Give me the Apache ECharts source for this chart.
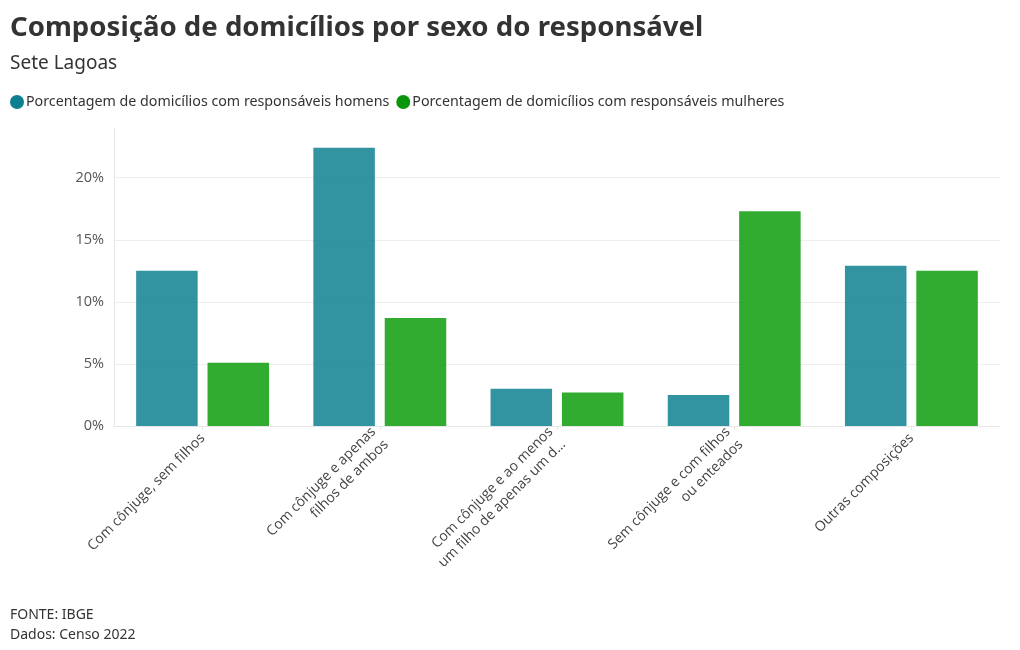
<!DOCTYPE html>
<html>
<head>
<meta charset="utf-8">
<script src="https://cdn.jsdelivr.net/npm/echarts@6/dist/echarts.min.js"></script>
<style>html,body{margin:0;padding:0;background:#fff}#c{width:1020px;height:650px}</style>
</head>
<body>
<div id="c"></div>
<script>
const categories = [
  "Com cônjuge, sem filhos",
  "Com cônjuge e apenas\nfilhos de ambos",
  "Com cônjuge e ao menos\num filho de apenas um d...",
  "Sem cônjuge e com filhos\nou enteados",
  "Outras composições"
];
const seriesNames = [
  "Porcentagem de domicílios com responsáveis homens",
  "Porcentagem de domicílios com responsáveis mulheres"
];
const homens = [12.5, 22.4, 3.0, 2.5, 12.9];
const mulheres = [5.1, 8.7, 2.7, 17.3, 12.5];
const yTicks = [0, 5, 10, 15, 20];

const chart = echarts.init(document.getElementById('c'), null, {renderer: 'canvas'});
const titleFont = '"Noto Sans", Roboto, sans-serif';
const bodyFont = '"Open Sans", "Noto Sans", sans-serif';
chart.setOption({
  animation: false,
  title: [
    {text: "Composição de domicílios por sexo do responsável", left: 5, top: 9,
     textStyle: {fontFamily: titleFont, fontSize: 27.6, fontWeight: 'bold', color: '#333'}},
    {text: "Sete Lagoas", left: 5, top: 49,
     textStyle: {fontFamily: titleFont, fontSize: 19, fontWeight: 'normal', color: '#333'}},
    {text: "FONTE: IBGE\nDados: Censo 2022", left: 5, top: 600,
     textStyle: {fontFamily: titleFont, fontSize: 14, fontWeight: 'normal', color: '#333', lineHeight: 20}}
  ],
  legend: {
    left: 5, top: 90, icon: 'circle', itemWidth: 14, itemHeight: 14, itemGap: 7,
    textStyle: {fontFamily: titleFont, fontSize: 14.25, color: '#333', padding: [0,0,0,-3]},
    data: [
      {name: seriesNames[0], itemStyle: {color: '#0b7f8f', opacity: 1}},
      {name: seriesNames[1], itemStyle: {color: '#0a960a', opacity: 1}}
    ]
  },
  grid: {left: 114, right: 20, top: 128, bottom: 224},
  xAxis: {
    type: 'category', data: categories,
    axisLine: {lineStyle: {color: '#e6e6e6'}},
    axisTick: {show: true, alignWithLabel: true, length: 4, lineStyle: {color: '#e6e6e6'}},
    axisLabel: {rotate: 45, interval: 0, margin: 10, fontFamily: bodyFont, fontSize: 14,
                color: '#444', lineHeight: 18}
  },
  yAxis: {
    type: 'value', min: 0, max: 24, interval: 5,
    axisLine: {show: true, lineStyle: {color: '#e6e6e6'}},
    axisTick: {show: false},
    splitLine: {show: true, showMaxLine: false, lineStyle: {color: '#eeeeee'}},
    axisLabel: {showMaxLabel: false, margin: 10, fontFamily: bodyFont, fontSize: 14.5, color: '#555',
                formatter: v => yTicks.includes(v) ? v + '%' : ''}
  },
  series: [
    {name: seriesNames[0], type: 'bar', data: homens, barGap: '16%', barCategoryGap: '25%',
     itemStyle: {color: '#0b7f8f', opacity: 0.84}},
    {name: seriesNames[1], type: 'bar', data: mulheres,
     itemStyle: {color: '#0a9c0a', opacity: 0.84}}
  ]
});
</script>
</body>
</html>
